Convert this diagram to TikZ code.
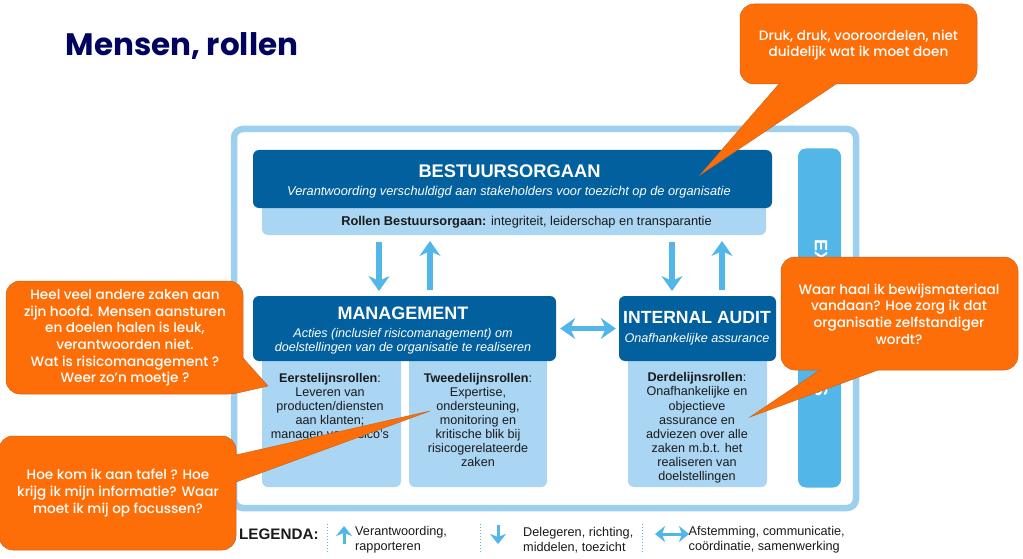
\documentclass[tikz,border=0pt]{standalone}
\usepackage{fontspec}
\setmainfont{Liberation Sans}
\newfontfamily\popfont{Poppins}[UprightFont=* Medium]
\newfontfamily\popbold{Poppins}[UprightFont=* Bold]
\usetikzlibrary{arrows.meta}
\definecolor{frameblue}{HTML}{9DD0EF}
\definecolor{darkblue}{HTML}{02609E}
\definecolor{lightblue}{HTML}{AAD6F3}
\definecolor{skyblue}{HTML}{52B6E9}
\definecolor{calloutorange}{HTML}{FE6E08}
\definecolor{calloutedge}{HTML}{C9651F}
\definecolor{navy}{HTML}{02025F}
\definecolor{inktext}{HTML}{1A1A1A}
\tikzset{
  darkbox/.style={fill=darkblue,rounded corners=6pt,inner sep=0pt,text=white,align=center},
  lightbox/.style={fill=lightblue,rounded corners=6pt,inner sep=0pt,text=inktext,align=center},
  bodytext/.style={text=inktext,align=center,inner sep=0pt,font=\fontsize{12.6}{14.1}\selectfont},
  flow/.style={draw=skyblue,line width=5.2pt,-{Stealth[inset=5pt,length=15pt,width=21pt]}},
  flowboth/.style={draw=skyblue,line width=5.2pt,{Stealth[inset=5pt,length=15pt,width=21pt]}-{Stealth[inset=5pt,length=15pt,width=21pt]}},
  legendflow/.style={draw=skyblue,line width=3pt,-{Stealth[inset=3pt,length=10pt,width=16pt]}},
  legendboth/.style={draw=skyblue,line width=3pt,{Stealth[inset=3pt,length=10pt,width=16pt]}-{Stealth[inset=3pt,length=10pt,width=16pt]}},
  legendsep/.style={draw=skyblue,line width=1pt,dotted},
  legendtext/.style={text=inktext,align=left,anchor=west,inner sep=0pt,font=\fontsize{12.7}{14.6}\selectfont},
  calloutshape/.style={fill=calloutorange,draw=calloutedge,line width=0.5pt},
  callouttext/.style={text=white,align=center,inner sep=0pt,font=\popfont\fontsize{13.6}{16.6}\selectfont},
}
\begin{document}
\begin{tikzpicture}[x=1pt,y=-1pt]
\useasboundingbox (0,0) rectangle (1023,559);
\fill[white] (0,0) rectangle (1023,559);
% title
\node[anchor=west,inner sep=0pt,text=navy,font=\popbold\fontsize{31}{36}\selectfont] (title) at (65.5,46) {Mensen, rollen};
% frame
\node[draw=frameblue,line width=6.5pt,rounded corners=9pt,minimum width=622pt,minimum height=379pt,inner sep=0pt] (frame) at (545,318.5) {};
% side bar
\node[fill=skyblue,rounded corners=8pt,minimum width=43pt,minimum height=339pt,inner sep=0pt] (side) at (819.5,318) {};
\node[rotate=-90,anchor=west,inner sep=0pt,text=white,font=\bfseries\fontsize{18}{18}\selectfont] (sideA) at (821,239) {EX};
\node[rotate=-90,anchor=east,inner sep=0pt,text=white,font=\bfseries\fontsize{18}{18}\selectfont] (sideB) at (821,397) {S};
% governing body
\node[lightbox,minimum width=504pt,minimum height=40pt] (roles) at (514,215) {};
\node[darkbox,minimum width=519pt,minimum height=58pt] (board) at (512.5,179) {};
\node[inner sep=0pt,text=white,font=\bfseries\fontsize{18.3}{20}\selectfont] (boardT) at (509.5,171) {BESTUURSORGAAN};
\node[inner sep=0pt,text=white,font=\itshape\fontsize{12.8}{14}\selectfont] (boardS) at (509,192) {Verantwoording verschuldigd aan stakeholders voor toezicht op de organisatie};
\node[inner sep=0pt,text=inktext,font=\fontsize{12.8}{14}\selectfont] (rolesT) at (526.5,222) {\textbf{Rollen Bestuursorgaan:} integriteit, leiderschap en transparantie};
% role boxes
\node[lightbox,minimum width=139pt,minimum height=136pt] (first) at (331.5,419) {};
\node[lightbox,minimum width=138pt,minimum height=136pt] (second) at (478,419) {};
\node[lightbox,minimum width=139pt,minimum height=136pt] (third) at (697.5,419) {};
% management + IA
\node[darkbox,minimum width=303pt,minimum height=65pt] (mgmt) at (404.5,328.5) {};
\node[darkbox,minimum width=157pt,minimum height=65pt] (ia) at (697.5,328.5) {};
\node[inner sep=0pt,text=white,font=\bfseries\fontsize{18}{20}\selectfont] (mgmtT) at (403,313) {MANAGEMENT};
\node[inner sep=0pt,text=white,align=center,font=\itshape\fontsize{12.6}{14}\selectfont] (mgmtS) at (403,341) {Acties (inclusief risicomanagement) om\\doelstellingen van de organisatie te realiseren};
\node[inner sep=0pt,text=white,font=\bfseries\fontsize{17.6}{20}\selectfont] (iaT) at (697,318) {INTERNAL AUDIT};
\node[inner sep=0pt,text=white,font=\itshape\fontsize{12.6}{14}\selectfont] (iaS) at (697,339) {Onafhankelijke assurance};
% role texts
\node[bodytext,anchor=north] (firstT) at (330,373) {\textbf{Eerstelijnsrollen}:\\Leveren van\\producten/diensten\\aan klanten;\\managen van risico's};
\node[bodytext,anchor=north] (secondT) at (478,373) {\textbf{Tweedelijnsrollen}:\\Expertise,\\ondersteuning,\\monitoring en\\kritische blik bij\\risicogerelateerde\\zaken};
\node[bodytext,anchor=north] (thirdT) at (697,372.5) {\textbf{Derdelijnsrollen}:\\Onafhankelijke en\\objectieve\\assurance en\\adviezen over alle\\zaken m.b.t. het\\realiseren van\\doelstellingen};
% arrows
\coordinate (d1a) at (379,242); \coordinate (d1b) at (379,291);
\coordinate (u1a) at (430,290); \coordinate (u1b) at (430,241);
\coordinate (d2a) at (672,242); \coordinate (d2b) at (672,291);
\coordinate (u2a) at (722,290); \coordinate (u2b) at (722,241);
\draw[flow] (d1a) -- (d1b);
\draw[flow] (u1a) -- (u1b);
\draw[flow] (d2a) -- (d2b);
\draw[flow] (u2a) -- (u2b);
\draw[flowboth,shorten <=4pt,shorten >=3pt] (mgmt.east) -- (ia.west);
% legend
\node[anchor=west,inner sep=0pt,text=inktext,font=\bfseries\fontsize{15.2}{16}\selectfont] (legend) at (239,534.5) {LEGENDA:};
\coordinate (s1a) at (327,524); \coordinate (s1b) at (327,553);
\coordinate (s2a) at (480,524); \coordinate (s2b) at (480,553);
\coordinate (s3a) at (642,524); \coordinate (s3b) at (642,553);
\draw[legendsep] (s1a) -- (s1b);
\draw[legendsep] (s2a) -- (s2b);
\draw[legendsep] (s3a) -- (s3b);
\coordinate (lua) at (344,544); \coordinate (lub) at (344,526);
\coordinate (lda) at (498,525); \coordinate (ldb) at (498,544);
\coordinate (lba) at (655,534); \coordinate (lbb) at (689,534);
\draw[legendflow] (lua) -- (lub);
\draw[legendflow] (lda) -- (ldb);
\draw[legendboth] (lba) -- (lbb);
\node[legendtext] (l1) at (355,540) {Verantwoording,\\rapporteren};
\node[legendtext] (l2) at (523,540) {Delegeren, richting,\\middelen, toezicht};
\node[legendtext] (l3) at (688.5,540) {Afstemming, communicatie,\\coördinatie, samenwerking};
% callouts
\path[calloutshape,rounded corners=14pt] (740,4) rectangle (977,84);
\path[calloutshape] (779,84) -- (700,175) -- (836,84) -- cycle;
\path[fill=calloutorange] (780,83) rectangle (835,85);
\node[callouttext] (c1) at (858.5,45) {Druk, druk, vooroordelen, niet\\duidelijk wat ik moet doen};
\path[calloutshape,rounded corners=14pt] (6,281) rectangle (243,394);
\path[calloutshape] (243,358) -- (268,386) -- (233,394) -- cycle;
\path[fill=calloutorange] (233,360) -- (243,360) -- (243,392) -- (233,392) -- cycle;
\node[callouttext] (c2) at (125,338) {Heel veel andere zaken aan\\zijn hoofd. Mensen aansturen\\en doelen halen is leuk,\\verantwoorden niet.\\Wat is risicomanagement ?\\Weer zo’n moetje ?};
\path[calloutshape,rounded corners=14pt] (-1,436) rectangle (236,550);
\path[calloutshape] (236,455) -- (430,411) -- (236,482) -- cycle;
\path[fill=calloutorange] (234,456) rectangle (237,481);
\node[callouttext] (c3) at (118,493) {Hoe kom ik aan tafel ? Hoe\\krijg ik mijn informatie? Waar\\moet ik mij op focussen?};
\path[calloutshape,rounded corners=14pt] (781,257) rectangle (1018,370);
\path[calloutshape] (820,370) -- (750,417) -- (878,370) -- cycle;
\path[fill=calloutorange] (821,369) rectangle (877,371);
\node[callouttext] (c4) at (899,314) {Waar haal ik bewijsmateriaal\\vandaan? Hoe zorg ik dat\\organisatie zelfstandiger\\wordt?};
\end{tikzpicture}
\end{document}
